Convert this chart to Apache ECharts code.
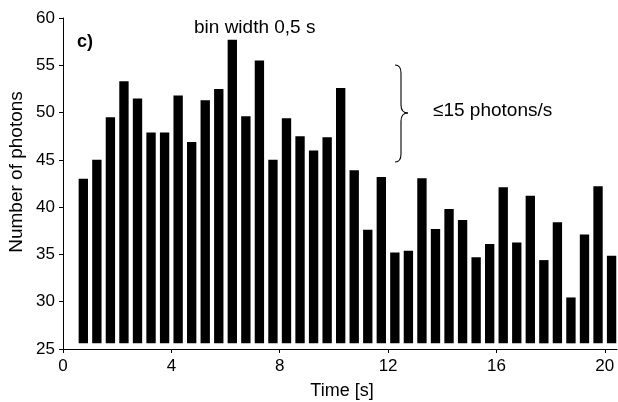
<!DOCTYPE html>
<html><head><meta charset="utf-8">
<script src="https://cdn.jsdelivr.net/npm/echarts@6/dist/echarts.min.js"></script>
<style>html,body{margin:0;padding:0;background:#fff}#c{width:618px;height:402px}</style>
</head><body><div id="c"></div>
<script>
var times = [0.75,1.25,1.75,2.25,2.75,3.25,3.75,4.25,4.75,5.25,5.75,6.25,6.75,7.25,7.75,8.25,8.75,9.25,9.75,10.25,
             10.75,11.25,11.75,12.25,12.75,13.25,13.75,14.25,14.75,15.25,15.75,16.25,16.75,17.25,17.75,18.25,18.75,19.25,19.75,20.25];
var photons = [43.0,45.0,49.5,53.3,51.5,47.9,47.9,51.8,46.9,51.3,52.5,57.7,49.6,55.5,45.0,49.4,47.5,46.0,47.4,52.6,
               43.9,37.6,43.2,35.2,35.4,43.05,37.7,39.8,38.65,34.7,36.1,42.1,36.25,41.2,34.4,38.4,30.45,37.1,42.2,34.85];
var barBase = 25.6;
var yTicks = [25,30,35,40,45,50,55,60];
var xTicks = [0,4,8,12,16,20];

var FONT = 'Liberation Sans, Arial, sans-serif';
var data = times.map(function(t,i){return [t, photons[i]];});
var chart = echarts.init(document.getElementById('c'));
var st = {stroke:'#000', lineWidth:1.1, fill:null};
function bz(x1,y1,cx,cy,x2,y2){return {type:'bezierCurve', shape:{x1:x1,y1:y1,cpx1:cx,cpy1:cy,x2:x2,y2:y2}, style:st};}
function ln(x1,y1,x2,y2){return {type:'line', shape:{x1:x1,y1:y1,x2:x2,y2:y2}, style:st};}
chart.setOption({
  animation:false,
  backgroundColor:'#fff',
  grid:{left:63, top:18, width:554, height:331, containLabel:false, outerBoundsMode:'none'},
  xAxis:{type:'value', min:0, max:20.45, interval:4,
    axisLine:{lineStyle:{color:'#000', width:1}},
    axisTick:{show:true, length:4, lineStyle:{color:'#000'}},
    axisLabel:{fontFamily:FONT, fontSize:17, color:'#000', margin:9, showMaxLabel:false,
      formatter:function(v){return xTicks.indexOf(v)>=0?String(v):'';}},
    splitLine:{show:false}},
  yAxis:{type:'value', min:yTicks[0], max:yTicks[yTicks.length-1], interval:5,
    axisLine:{show:true, lineStyle:{color:'#000', width:1}},
    axisTick:{show:true, length:4, lineStyle:{color:'#000'}},
    axisLabel:{fontFamily:FONT, fontSize:17, color:'#000', margin:8},
    splitLine:{show:false}},
  series:[{
    type:'custom',
    data:data,
    encode:{x:0, y:1},
    renderItem:function(params, api){
      var x = api.value(0), v = api.value(1);
      var top = api.coord([x, v]);
      var bot = api.coord([x, barBase]);
      var w = api.size([0.345, 0])[0];
      return {type:'rect', shape:{x:top[0]-w/2, y:top[1], width:w, height:bot[1]-top[1]},
        style:{fill:'#000'}};
    }
  }],
  graphic:[
    {type:'text', x:17, y:172, rotation:Math.PI/2,
      style:{text:'Number of photons', font:'19px '+FONT, fill:'#000', textAlign:'center', textVerticalAlign:'middle'}},
    {type:'text', x:342, y:391,
      style:{text:'Time [s]', font:'18px '+FONT, fill:'#000', textAlign:'center', textVerticalAlign:'middle'}},
    {type:'text', left:77, top:33, style:{text:'c)', font:'bold 18px '+FONT, fill:'#000'}},
    {type:'text', left:194, top:18, style:{text:'bin width 0,5 s', font:'19px '+FONT, fill:'#000'}},
    {type:'text', left:433, top:101, style:{text:'\u226415 photons/s', font:'19px '+FONT, fill:'#000'}},
    bz(395,65,401,65,401,73), ln(401,73,401,105), bz(401,105,401,113,408,113),
    bz(408,113,401,113,401,121), ln(401,121,401,154), bz(401,154,401,162,395,162)
  ]
});
</script></body></html>
